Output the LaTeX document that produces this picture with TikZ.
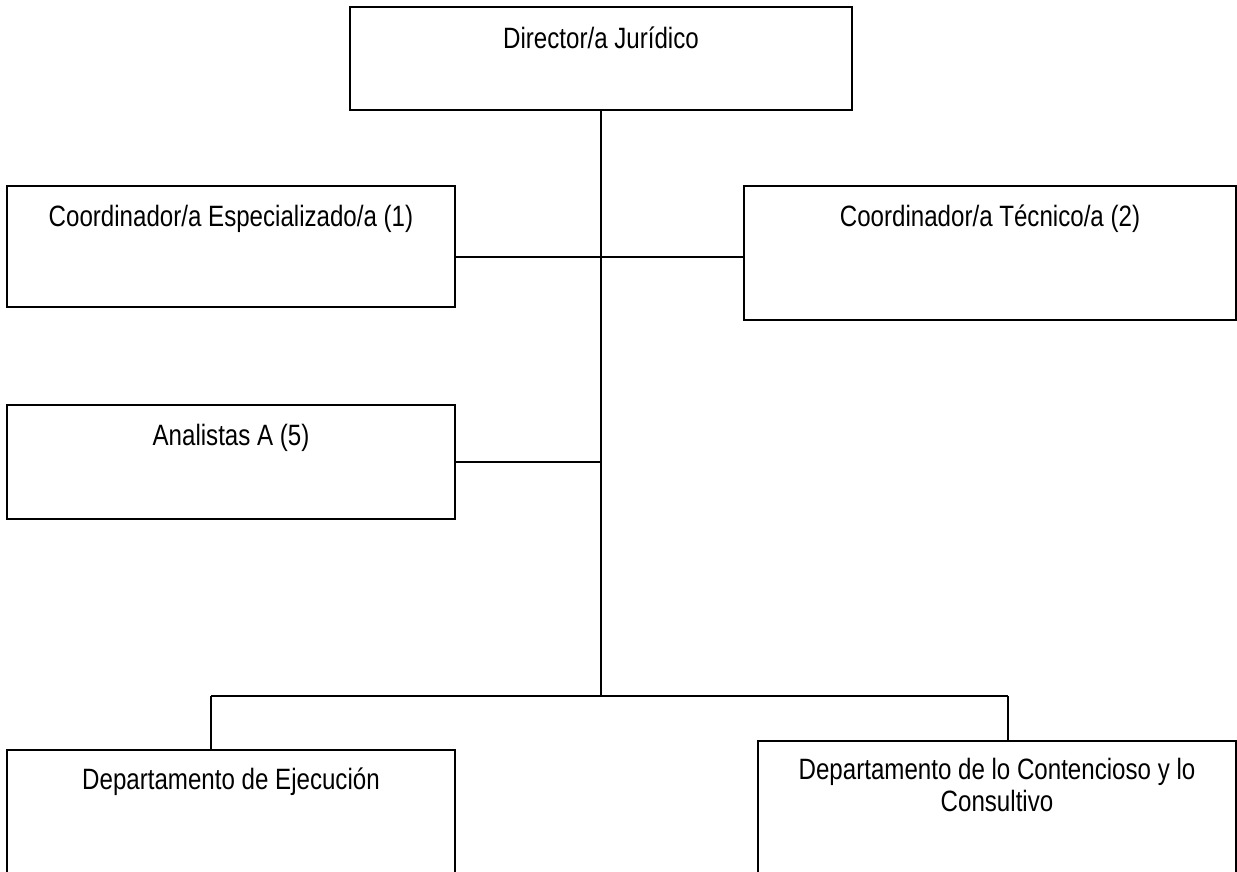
\documentclass[tikz,border=0pt]{standalone}
\usepackage{fontspec}
\setmainfont[FakeStretch=0.82]{Liberation Sans}
\begin{document}
\begin{tikzpicture}[x=1pt,y=-1pt,
  box/.style={draw=black, line width=1.6pt, rectangle, inner sep=0pt, fill=none},
  lbl/.style={anchor=base, inner sep=0pt, align=center, font=\fontsize{29.4}{32}\selectfont},
  conn/.style={draw=black, line width=1.6pt}]
\clip (0,0) rectangle (1237,872);
\fill[white] (0,0) rectangle (1237,872);
\node[box, minimum width=502pt, minimum height=103pt,
  label={[lbl, yshift=-42pt]north:Director/a Jurídico}] (dir) at (601,58.5) {};
\node[box, minimum width=448pt, minimum height=121pt,
  label={[lbl, yshift=-41pt]north:Coordinador/a Especializado/a (1)}] (ce) at (231,246.5) {};
\node[box, minimum width=492pt, minimum height=134pt,
  label={[lbl, yshift=-41pt]north:Coordinador/a Técnico/a (2)}] (ct) at (990,253) {};
\node[box, minimum width=448pt, minimum height=114pt,
  label={[lbl, yshift=-41pt]north:Analistas A (5)}] (an) at (231,462) {};
\node[box, minimum width=448pt, minimum height=140pt,
  label={[lbl, yshift=-40pt]north:Departamento de Ejecución}] (de) at (231,820) {};
\node[box, minimum width=478pt, minimum height=150pt,
  label={[lbl, yshift=-71pt]north:{Departamento de lo Contencioso y lo\\Consultivo}}] (dc) at (997,816) {};
\coordinate (bus) at (601,696);
\coordinate (row1) at (601,257);
\coordinate (dl) at (211,696);
\coordinate (dr) at (1008,696);
\draw[conn] (dir.south) -- (bus);
\draw[conn] (ce.east |- row1) -- (ct.west |- row1);
\draw[conn] (an.east) -- (an.east -| bus);
\draw[conn] (dl) -- (dr);
\draw[conn] (dl) -- (dl |- de.north);
\draw[conn] (dr) -- (dr |- dc.north);
\end{tikzpicture}
\end{document}
